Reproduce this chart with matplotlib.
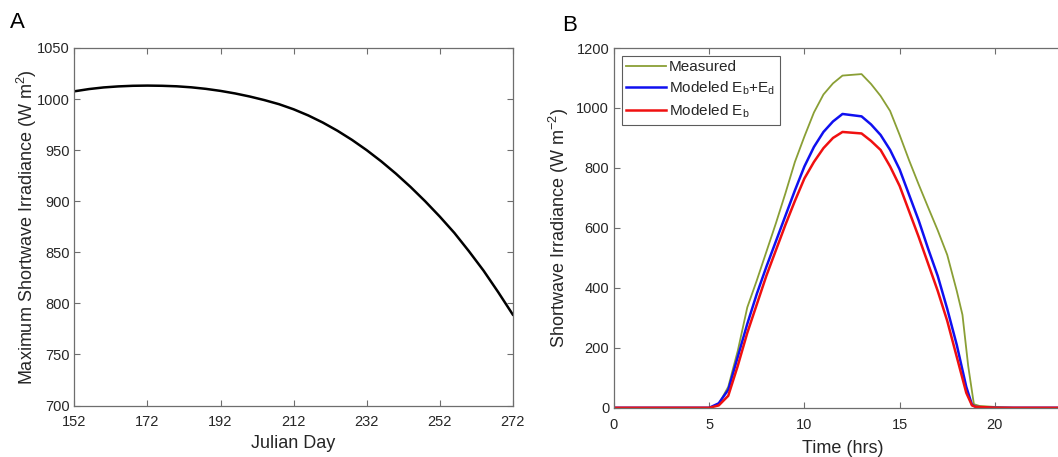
import matplotlib
matplotlib.use('Agg')
import matplotlib.pyplot as plt

plt.rcParams['font.family'] = ['Liberation Sans', 'DejaVu Sans']
plt.rcParams['mathtext.fontset'] = 'custom'
plt.rcParams['mathtext.rm'] = 'Liberation Sans'

# panel A: max shortwave irradiance vs julian day
julian_day = [152, 156, 160, 164, 168, 172, 176, 180, 184, 188, 192, 196, 200, 204,
              208, 212, 216, 220, 224, 228, 232, 236, 240, 244, 248, 252, 256, 260,
              264, 268, 272]
max_sw = [1007.6, 1009.8, 1011.4, 1012.4, 1013.0, 1013.2, 1013.0, 1012.5, 1011.5, 1010.0,
          1008.0, 1005.5, 1002.5, 999.0, 995.0, 990.0, 984.0, 977.0, 969.0, 960.0,
          950.0, 939.0, 927.0, 914.0, 900.0, 885.0, 869.0, 851.0, 832.0, 811.0, 789.0]

# panel B: diurnal irradiance
t_meas = [0, 2, 4, 5.0, 5.5, 6.0, 6.5, 7.0, 7.5, 8.0, 8.5, 9.0, 9.5, 10.0, 10.5, 11.0,
          11.5, 12.0, 13.0, 13.5, 14.0, 14.5, 15.0, 15.5, 16.0, 16.5, 17.0, 17.5,
          18.0, 18.3, 18.6, 18.9, 19.2, 20.0, 21.0, 24]
measured = [0, 0, 0, 0, 12, 70, 190, 335, 425, 520, 615, 715, 820, 905, 985, 1045,
            1082, 1108, 1113, 1080, 1040, 990, 910, 825, 745, 668, 592, 510,
            390, 310, 140, 12, 6, 3, 0, 0]

t_mod = [0, 2, 4, 5.0, 5.5, 6.0, 6.5, 7.0, 7.5, 8.0, 8.5, 9.0, 9.5, 10.0, 10.5, 11.0,
         11.5, 12.0, 13.0, 13.5, 14.0, 14.5, 15.0, 15.5, 16.0, 16.5, 17.0, 17.5,
         18.0, 18.5, 18.8, 19.0, 19.5, 20.0, 24]
eb_ed = [0, 0, 0, 0, 15, 60, 170, 280, 380, 470, 555, 640, 725, 805, 870, 920,
         955, 980, 972, 945, 910, 860, 795, 710, 625, 530, 440, 330,
         210, 70, 10, 3, 1, 0, 0]
eb = [0, 0, 0, 0, 8, 40, 140, 250, 345, 440, 525, 610, 690, 765, 820, 866,
      900, 920, 915, 890, 860, 805, 740, 655, 570, 480, 390, 290,
      170, 50, 8, 3, 2, 0, 0]

W, H = 1058, 457
fig = plt.figure(figsize=(W / 100, H / 100), dpi=100)

spine_col = '#6e6e6e'
txt_col = '#262626'


def style(ax):
    ax.tick_params(direction='in', top=True, right=True, length=4, width=0.8,
                   colors=spine_col, labelcolor=txt_col, labelsize=10.5)
    ax.tick_params(axis='x', pad=7)
    for s in ax.spines.values():
        s.set_color(spine_col)
        s.set_linewidth(0.9)


axA = fig.add_axes([74.4 / W, 1 - 405.5 / H, (512.8 - 74.4) / W, (405.5 - 48) / H])
axA.plot(julian_day, max_sw, color='black', lw=1.8)
axA.set_xlim(152, 272)
axA.set_ylim(700, 1050)
axA.set_xticks(range(152, 273, 20))
axA.set_yticks(range(700, 1051, 50))
axA.set_xlabel('Julian Day', fontsize=13, color=txt_col, labelpad=4)
axA.set_ylabel(r'Maximum Shortwave Irradiance (W m$^{\mathregular{2}}$)', fontsize=13,
               color=txt_col, labelpad=-2)
style(axA)

axB = fig.add_axes([614 / W, 1 - 407.8 / H, (1071 - 614) / W, (407.8 - 48) / H])
axB.plot(t_meas, measured, color='#8a9f35', lw=1.3, label='Measured')
axB.plot(t_mod, eb_ed, color='#1010f0', lw=1.8, label=r'Modeled E$_{\mathregular{b}}$+E$_{\mathregular{d}}$')
axB.plot(t_mod, eb, color='#f01010', lw=1.8, label=r'Modeled E$_{\mathregular{b}}$')
axB.set_xlim(0, 24)
axB.set_ylim(0, 1200)
axB.set_xticks([0, 5, 10, 15, 20])
axB.set_yticks(range(0, 1201, 200))
axB.set_xlabel('Time (hrs)', fontsize=13, color=txt_col, labelpad=6)
axB.set_ylabel(r'Shortwave Irradiance (W m$^{\mathregular{-2}}$)', fontsize=13,
               color=txt_col, labelpad=4)
style(axB)
axB.spines['right'].set_visible(False)
leg = axB.legend(loc='upper left', fontsize=11, frameon=True, fancybox=False,
                 edgecolor='#333333', handlelength=2.6, handletextpad=0.2,
                 borderpad=0.3, labelspacing=0.35, borderaxespad=0.5)
leg.get_frame().set_linewidth(0.8)
for t in leg.get_texts():
    t.set_color(txt_col)

fig.text(10 / W, 1 - 28 / H, 'A', fontsize=16, color='black')
fig.text(562 / W, 1 - 31 / H, 'B', fontsize=16, color='black')

fig.savefig('out.png', dpi=100)
